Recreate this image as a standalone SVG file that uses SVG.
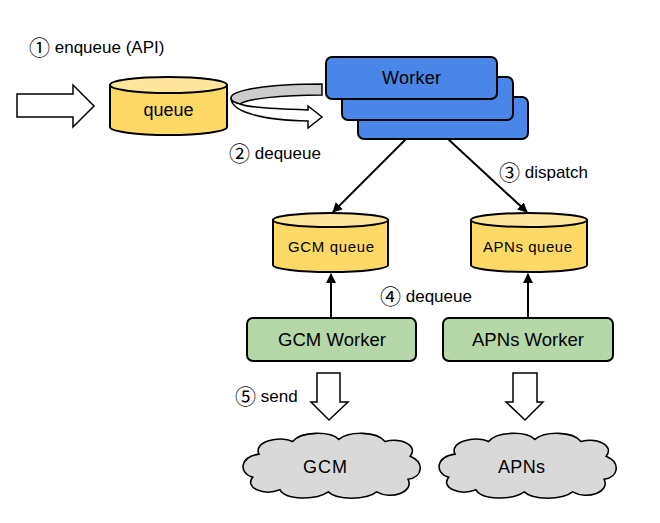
<svg xmlns="http://www.w3.org/2000/svg" width="660" height="523" viewBox="0 0 660 523">
<defs>
<style>
.lbl{font-family:"Liberation Sans","Noto Sans CJK JP",sans-serif;font-size:17px;fill:#000}
.cn{font-family:"Noto Sans CJK JP",sans-serif;font-size:21px}
.t{font-family:"Liberation Sans","Noto Sans CJK JP",sans-serif;fill:#000;text-anchor:middle}
.cylb{fill:#ffd966;stroke:#000;stroke-width:2}
.cylt{fill:#ffe69a;stroke:#000;stroke-width:2}
.wk{fill:#4a86e8;stroke:#000;stroke-width:2}
.gw{fill:#b6d7a8;stroke:#000;stroke-width:2}
.cloud{fill:#d9d9d9;stroke:#000;stroke-width:1.5}
.blk{fill:#fff;stroke:#000;stroke-width:1.5}
.ln{stroke:#000;stroke-width:2;fill:none}
</style>
<marker id="ah" viewBox="0 0 10 10" refX="9" refY="5" markerWidth="5" markerHeight="5" orient="auto" markerUnits="strokeWidth">
<path d="M0,0 L10,5 L0,10 Z" fill="#000"/>
</marker>
<path id="cl" d="M20,22 C14,10 40,4 52,10 C60,0 88,0 96,8 C106,0 132,0 140,10 C156,6 172,14 164,24 C178,30 176,44 162,46 C168,58 146,66 132,58 C122,66 94,66 86,58 C74,66 46,66 40,56 C24,62 6,54 14,44 C0,40 2,24 20,22 Z"/>
</defs>

<g id="labels">
<text class="lbl" x="29" y="53"><tspan class="cn" dy="1.5">①</tspan><tspan dy="-1.5"> enqueue (API)</tspan></text>
<text class="lbl" x="229" y="159"><tspan class="cn" dy="1.5">②</tspan><tspan dy="-1.5"> dequeue</tspan></text>
<text class="lbl" x="499" y="178"><tspan class="cn" dy="1.5">③</tspan><tspan dy="-1.5"> dispatch</tspan></text>
<text class="lbl" x="380" y="302"><tspan class="cn" dy="1.5">④</tspan><tspan dy="-1.5"> dequeue</tspan></text>
<text class="lbl" x="235" y="402"><tspan class="cn" dy="1.5">⑤</tspan><tspan dy="-1.5"> send</tspan></text>
</g>

<g id="connectors">
<path class="blk" d="M17,94 L73,94 L73,85 L94,106 L73,127 L73,117 L17,117 Z"/>
<path d="M322,84 C268,84 231,90 231,98 C231,101 235,103 240,104 C246,99 280,95 322,95 Z" fill="#cccccc" stroke="#000" stroke-width="1.5"/>
<path class="blk" d="M231,98 C231,112 262,120 308,121 L308,128 L322,117 L308,106 L308,110 C276,109 246,107 240,104 C235,103 231,101 231,98 Z"/>
<line class="ln" x1="406" y1="139" x2="333" y2="212" marker-end="url(#ah)"/>
<line class="ln" x1="448" y1="139" x2="527" y2="212" marker-end="url(#ah)"/>
<line class="ln" x1="331" y1="318" x2="331" y2="274" marker-end="url(#ah)"/>
<line class="ln" x1="528" y1="318" x2="528" y2="274" marker-end="url(#ah)"/>
<path class="blk" d="M317,373 L340,373 L340,402 L348,402 L329,420 L311,402 L317,402 Z"/>
<path class="blk" d="M513,373 L537,373 L537,402 L543,402 L525,420 L506,402 L513,402 Z"/>
</g>

<g id="queue">
<path class="cylb" d="M110,85 L110,127 A58.5,8 0 0 0 227,127 L227,85 Z"/>
<ellipse class="cylt" cx="168.5" cy="85" rx="58.5" ry="8"/>
<text class="t" x="168.5" y="116" font-size="18" textLength="50">queue</text>
</g>

<g id="worker">
<rect class="wk" x="358" y="97" width="170" height="42" rx="6"/>
<rect class="wk" x="342" y="77" width="171" height="43" rx="6"/>
<rect class="wk" x="326" y="57" width="171" height="42" rx="6"/>
<text class="t" x="411.5" y="84" font-size="18" textLength="59">Worker</text>
</g>

<g id="gcm-queue">
<path class="cylb" d="M273,220 L273,265 A57.5,7 0 0 0 388,265 L388,220 Z"/>
<ellipse class="cylt" cx="330.5" cy="220" rx="57.5" ry="7"/>
<text class="t" x="331" y="252" font-size="15" textLength="86">GCM queue</text>
</g>

<g id="apns-queue">
<path class="cylb" d="M471,220 L471,265 A58,7 0 0 0 587,265 L587,220 Z"/>
<ellipse class="cylt" cx="529" cy="220" rx="58" ry="7"/>
<text class="t" x="527.5" y="252" font-size="15" textLength="89">APNs queue</text>
</g>

<g id="gcm-worker">
<rect class="gw" x="247" y="318" width="169" height="43" rx="6"/>
<text class="t" x="332" y="345.5" font-size="18.5" textLength="108">GCM Worker</text>
</g>

<g id="apns-worker">
<rect class="gw" x="443" y="318" width="170" height="43" rx="6"/>
<text class="t" x="528" y="345.5" font-size="18.5" textLength="112">APNs Worker</text>
</g>

<g id="gcm">
<use href="#cl" class="cloud" transform="translate(238,431) scale(1.05,1.05)"/>
<text class="t" x="325" y="473" font-size="18" textLength="44">GCM</text>
</g>

<g id="apns">
<use href="#cl" class="cloud" transform="translate(434,431) scale(1.05,1.05)"/>
<text class="t" x="521.5" y="473" font-size="18" textLength="47">APNs</text>
</g>
</svg>
